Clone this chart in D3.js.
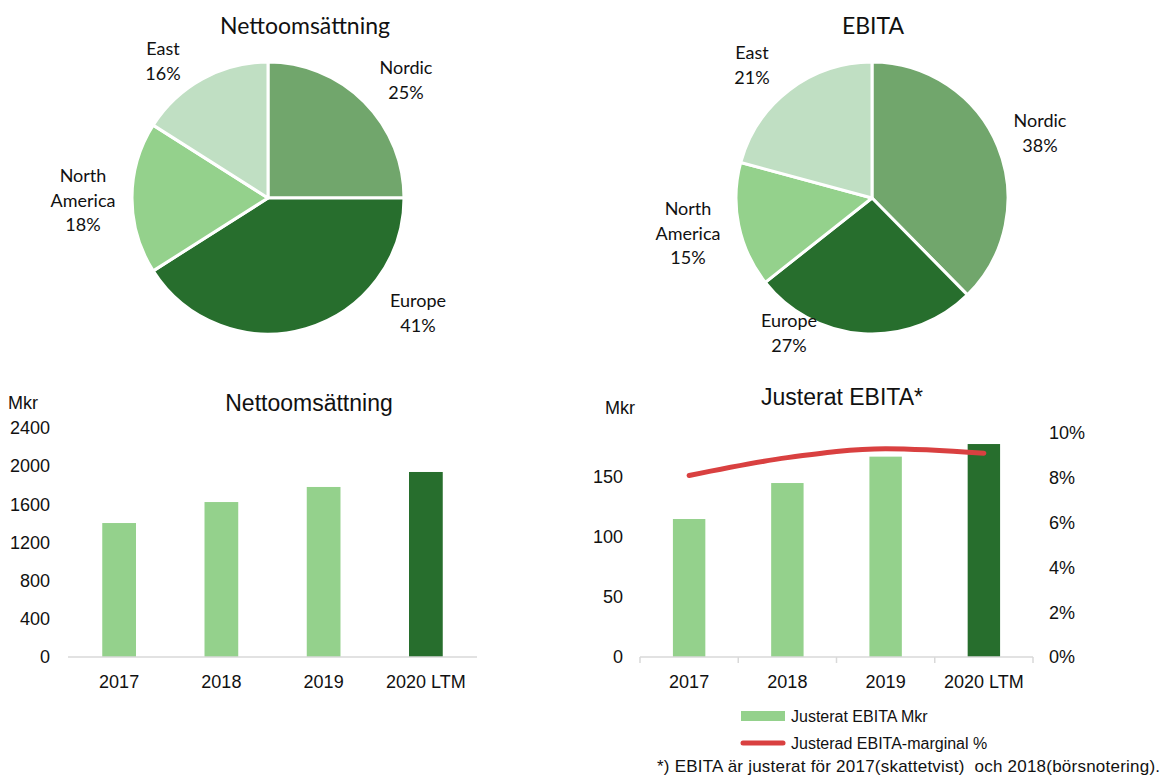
<!DOCTYPE html>
<html>
<head>
<meta charset="utf-8">
<script src="https://cdn.jsdelivr.net/npm/d3@7"></script>
<style>
  body { margin: 0; background: #fff; }
  svg { display: block; }
  .pie-text { font-family: Lato, "Open Sans", sans-serif; fill: #111; }
  .bar-text { font-family: "Liberation Sans", Arial, sans-serif; fill: #111; }
</style>
</head>
<body>
<svg id="chart" width="1165" height="783"></svg>
<script>
// ---- data ----
const regions = ["Nordic", "Europe", "North America", "East"];
const salesShare = [25, 41, 18, 16];
const ebitaShare = [38, 27, 15, 21];
const regionColors = ["#71a66c", "#276e2d", "#94d18c", "#c0dfc3"];

const years = ["2017", "2018", "2019", "2020 LTM"];
const netSales = [1404, 1624, 1782, 1939];
const adjEbita = [115, 145, 167, 177.5];
const ebitaMargin = [8.1, 8.9, 9.3, 9.1];
const salesTicks = [0, 400, 800, 1200, 1600, 2000, 2400];
const ebitaTicks = [0, 50, 100, 150];
const marginTicks = [0, 2, 4, 6, 8, 10];

const lightGreen = "#94d18c";
const darkGreen = "#276e2d";
const red = "#d94040";

const svg = d3.select("#chart");

// ---- pies ----
function drawPie(cx, cy, title, titleX, values, labelPos) {
  const g = svg.append("g").attr("transform", `translate(${cx},${cy})`);
  const arcs = d3.pie().sort(null)(values);
  const arc = d3.arc().innerRadius(0).outerRadius(136);

  g.selectAll("path")
    .data(arcs)
    .join("path")
    .attr("d", arc)
    .attr("fill", (d, i) => regionColors[i])
    .attr("stroke", "#fff")
    .attr("stroke-width", 3)
    .attr("stroke-linejoin", "round");

  svg.append("text")
    .attr("class", "pie-text")
    .attr("x", titleX)
    .attr("y", 34)
    .attr("text-anchor", "middle")
    .attr("font-size", 23)
    .text(title);

  regions.forEach((r, i) => {
    const lines = r === "North America" ? ["North", "America"] : [r];
    lines.push(values[i] + "%");
    const t = svg.append("text")
      .attr("class", "pie-text")
      .attr("text-anchor", "middle")
      .attr("font-size", 18);
    lines.forEach((l, j) => {
      t.append("tspan")
        .attr("x", labelPos[i][0])
        .attr("y", labelPos[i][1] + j * 24.5)
        .text(l);
    });
  });
}

drawPie(268, 198, "Nettoomsättning", 305, salesShare,
  [[406, 74], [418, 307], [83, 182], [163, 55]]);
drawPie(872, 198, "EBITA", 873, ebitaShare,
  [[1040, 127], [789, 327], [688, 215], [752, 59]]);

// ---- bar chart 1 ----
{
  const x = d3.scaleBand().domain(years).range([68, 477]).paddingInner(0.67).paddingOuter(0.335);
  const y = d3.scaleLinear().domain([0, 2400]).range([657, 428]);

  svg.append("g")
    .selectAll("rect")
    .data(netSales)
    .join("rect")
    .attr("x", (d, i) => x(years[i]))
    .attr("width", x.bandwidth())
    .attr("y", (d) => y(d))
    .attr("height", (d) => y(0) - y(d))
    .attr("fill", (d, i) => (i === years.length - 1 ? darkGreen : lightGreen));

  svg.append("line")
    .attr("x1", 68).attr("x2", 477)
    .attr("y1", y(0)).attr("y2", y(0))
    .attr("stroke", "#d9d9d9").attr("stroke-width", 1.5);

  svg.append("g")
    .selectAll("text")
    .data(salesTicks)
    .join("text")
    .attr("class", "bar-text")
    .attr("x", 50)
    .attr("y", (d) => y(d))
    .attr("dy", "0.35em")
    .attr("text-anchor", "end")
    .attr("font-size", 18)
    .text((d) => d);

  svg.append("g")
    .selectAll("text")
    .data(years)
    .join("text")
    .attr("class", "bar-text")
    .attr("x", (d) => x(d) + x.bandwidth() / 2)
    .attr("y", 682)
    .attr("dy", "0.35em")
    .attr("text-anchor", "middle")
    .attr("font-size", 18)
    .text((d) => d);

  svg.append("text").attr("class", "bar-text")
    .attr("x", 8).attr("y", 409).attr("font-size", 18).text("Mkr");
  svg.append("text").attr("class", "bar-text")
    .attr("x", 309).attr("y", 411).attr("text-anchor", "middle")
    .attr("font-size", 23).text("Nettoomsättning");
}

// ---- bar chart 2 ----
{
  const x = d3.scaleBand().domain(years).range([640, 1033]).paddingInner(0.67).paddingOuter(0.335);
  const y = d3.scaleLinear().domain([0, 186.7]).range([657, 433]);
  const y2 = d3.scaleLinear().domain([0, 10]).range([657, 433]);

  svg.append("g")
    .selectAll("rect")
    .data(adjEbita)
    .join("rect")
    .attr("x", (d, i) => x(years[i]))
    .attr("width", x.bandwidth())
    .attr("y", (d) => y(d))
    .attr("height", (d) => y(0) - y(d))
    .attr("fill", (d, i) => (i === years.length - 1 ? darkGreen : lightGreen));

  const xAxis = svg.append("g").attr("transform", `translate(0,${y(0)})`);
  xAxis.append("line")
    .attr("x1", 640).attr("x2", 1033)
    .attr("stroke", "#d9d9d9").attr("stroke-width", 1.5);
  const edges = d3.range(years.length + 1).map((i) => 640 + i * x.step());
  xAxis.selectAll(".edge")
    .data(edges)
    .join("line")
    .attr("class", "edge")
    .attr("x1", (d) => d).attr("x2", (d) => d)
    .attr("y1", 0).attr("y2", 6)
    .attr("stroke", "#d9d9d9").attr("stroke-width", 1.5);

  const line = d3.line()
    .x((d, i) => x(years[i]) + x.bandwidth() / 2)
    .y((d) => y2(d))
    .curve(d3.curveMonotoneX);
  svg.append("path")
    .datum(ebitaMargin)
    .attr("d", line)
    .attr("fill", "none")
    .attr("stroke", red)
    .attr("stroke-width", 5)
    .attr("stroke-linecap", "round");

  svg.append("g")
    .selectAll("text")
    .data(ebitaTicks)
    .join("text")
    .attr("class", "bar-text")
    .attr("x", 623)
    .attr("y", (d) => y(d))
    .attr("dy", "0.35em")
    .attr("text-anchor", "end")
    .attr("font-size", 18)
    .text((d) => d);

  svg.append("g")
    .selectAll("text")
    .data(marginTicks)
    .join("text")
    .attr("class", "bar-text")
    .attr("x", 1049)
    .attr("y", (d) => y2(d))
    .attr("dy", "0.35em")
    .attr("font-size", 18)
    .text((d) => d + "%");

  svg.append("g")
    .selectAll("text")
    .data(years)
    .join("text")
    .attr("class", "bar-text")
    .attr("x", (d) => x(d) + x.bandwidth() / 2)
    .attr("y", 682)
    .attr("dy", "0.35em")
    .attr("text-anchor", "middle")
    .attr("font-size", 18)
    .text((d) => d);

  svg.append("text").attr("class", "bar-text")
    .attr("x", 605).attr("y", 414).attr("font-size", 18).text("Mkr");
  svg.append("text").attr("class", "bar-text")
    .attr("x", 842).attr("y", 405).attr("text-anchor", "middle")
    .attr("font-size", 23).text("Justerat EBITA*");

  // legend
  svg.append("rect").attr("x", 741).attr("y", 711).attr("width", 44).attr("height", 10).attr("fill", lightGreen);
  svg.append("text").attr("class", "bar-text")
    .attr("x", 791).attr("y", 716).attr("dy", "0.35em").attr("font-size", 16)
    .text("Justerat EBITA Mkr");
  svg.append("line").attr("x1", 743).attr("x2", 783).attr("y1", 743).attr("y2", 743)
    .attr("stroke", red).attr("stroke-width", 5).attr("stroke-linecap", "round");
  svg.append("text").attr("class", "bar-text")
    .attr("x", 791).attr("y", 743).attr("dy", "0.35em").attr("font-size", 16)
    .text("Justerad EBITA-marginal %");

  svg.append("text").attr("class", "bar-text")
    .attr("x", 1160).attr("y", 766).attr("dy", "0.35em").attr("text-anchor", "end")
    .attr("font-size", 17)
    .attr("textLength", 503)
    .attr("xml:space", "preserve")
    .style("white-space", "pre")
    .text("*) EBITA är justerat för 2017(skattetvist)  och 2018(börsnotering).");
}
</script>
</body>
</html>
